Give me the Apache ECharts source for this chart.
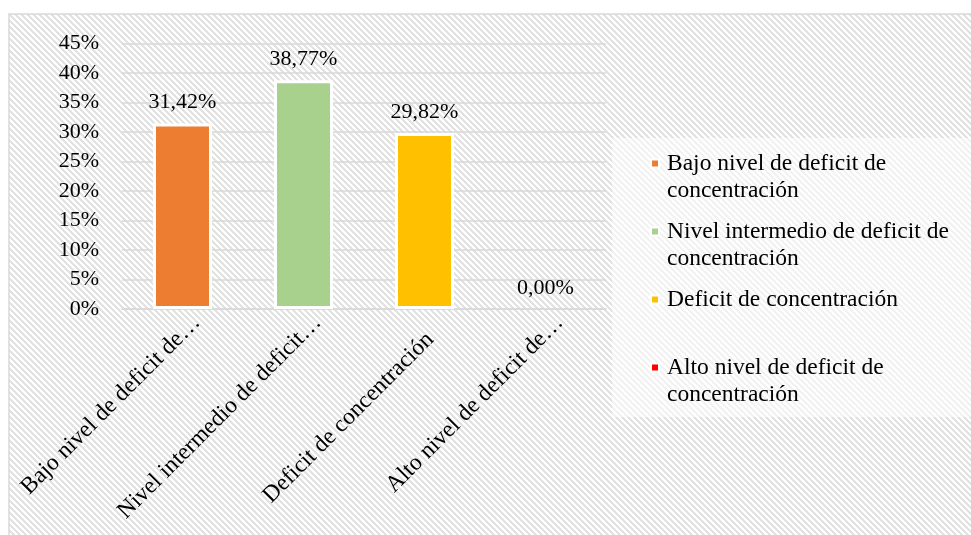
<!DOCTYPE html>
<html>
<head>
    <meta charset="utf-8" />
    <title>Deficit de concentración</title>
    <script src="https://cdn.jsdelivr.net/npm/echarts@6/dist/echarts.min.js"></script>
    <style>
        html, body { margin: 0; padding: 0; background: #ffffff; }
        #chart { width: 971px; height: 535px; }
    </style>
</head>
<body>
    <div id="chart"></div>
    <script>
        // data
        var categories = [
            'Bajo nivel de deficit de concentración',
            'Nivel intermedio de deficit de concentración',
            'Deficit de concentración',
            'Alto nivel de deficit de concentración'
        ];
        var tickLabels = [
            'Bajo nivel de deficit de…',
            'Nivel intermedio de deficit…',
            'Deficit de concentración',
            'Alto nivel de deficit de…'
        ];
        var legendLabels = [
            'Bajo nivel de deficit de\nconcentración',
            'Nivel intermedio de deficit de\nconcentración',
            'Deficit de concentración\n ',
            'Alto nivel de deficit de\nconcentración'
        ];
        var values = [31.42, 38.77, 29.82, 0.00];
        var colors = ['#ed7d31', '#a9d18e', '#ffc000', '#ff0000'];

        var fontFamily = "'Liberation Serif', 'Times New Roman', serif";

        // hatched background tile
        function makeHatch() {
            var c = document.createElement('canvas');
            c.width = 6; c.height = 6;
            var g = c.getContext('2d');
            var img = g.createImageData(6, 6);
            for (var y = 0; y < 6; y++) {
                for (var x = 0; x < 6; x++) {
                    var i = (y * 6 + x) * 4;
                    var on = (((x - y) % 6) + 6) % 6 < 3;
                    var v = on ? 226 : 255;
                    img.data[i] = v; img.data[i + 1] = v; img.data[i + 2] = v; img.data[i + 3] = 255;
                }
            }
            g.putImageData(img, 0, 0);
            return c;
        }

        var series = categories.map(function (name, idx) {
            return {
                name: name,
                type: 'bar',
                stack: 'total',
                barWidth: 59,
                itemStyle: { color: colors[idx], borderColor: '#ffffff', borderWidth: 3 },
                label: {
                    show: true,
                    position: 'top',
                    distance: 10,
                    color: '#000000',
                    fontFamily: fontFamily,
                    fontSize: 22,
                    formatter: function (p) {
                        return p.value.toFixed(2).replace('.', ',') + '%';
                    }
                },
                data: values.map(function (v, j) {
                    if (j !== idx) return '-';
                    return v > 0 ? v : { value: v, itemStyle: { borderWidth: 0 } };
                })
            };
        });

        // the full-length label sits a bit further down the slope than the cut ones
        var axisData = tickLabels.map(function (t) {
            if (t.indexOf('…') < 0) {
                return { value: t, textStyle: { verticalAlign: 'top', padding: [14, 18, 0, 0] } };
            }
            return t;
        });

        var chart = echarts.init(document.getElementById('chart'));
        chart.setOption({
            animation: false,
            backgroundColor: '#ffffff',
            graphic: [
                {
                    type: 'rect', z: -100, silent: true,
                    shape: { x: 9, y: 14, width: 990, height: 560 },
                    style: { fill: { image: makeHatch(), repeat: 'repeat' }, stroke: '#d9d9d9', lineWidth: 1.5 }
                },
                {
                    type: 'rect', z: -90, silent: true,
                    shape: { x: 612, y: 138, width: 380, height: 279 },
                    style: { fill: 'rgba(255,255,255,0.55)' }
                }
            ],
            grid: { left: 122, right: 365, top: 43.5, bottom: 226 },
            legend: {
                orient: 'vertical',
                left: 650,
                top: 123,
                padding: 0,
                itemWidth: 8,
                itemHeight: 8,
                itemGap: -13,
                icon: 'rect',
                data: categories,
                formatter: function (name) {
                    return ' \n' + legendLabels[categories.indexOf(name)];
                },
                textStyle: {
                    color: '#000000',
                    fontFamily: fontFamily,
                    fontSize: 23.5,
                    lineHeight: 27,
                    padding: [0, 0, 0, 3]
                }
            },
            xAxis: {
                type: 'category',
                data: axisData,
                axisTick: { show: false },
                axisLine: { lineStyle: { color: '#d9d9d9', width: 1.5 } },
                axisLabel: {
                    rotate: 45,
                    margin: -4,
                    interval: 0,
                    verticalAlign: 'top',
                    lineHeight: 24,
                    padding: [8, 0, 0, 0],
                    color: '#000000',
                    fontFamily: fontFamily,
                    fontSize: 23.5
                }
            },
            yAxis: {
                type: 'value',
                min: 0,
                max: 45,
                interval: 5,
                axisLine: { show: false },
                axisTick: { show: false },
                splitLine: { lineStyle: { color: '#d9d9d9', width: 1.5 } },
                axisLabel: {
                    margin: 23,
                    color: '#000000',
                    fontFamily: fontFamily,
                    fontSize: 22,
                    formatter: '{value}%'
                }
            },
            series: series
        });
    </script>
</body>
</html>
